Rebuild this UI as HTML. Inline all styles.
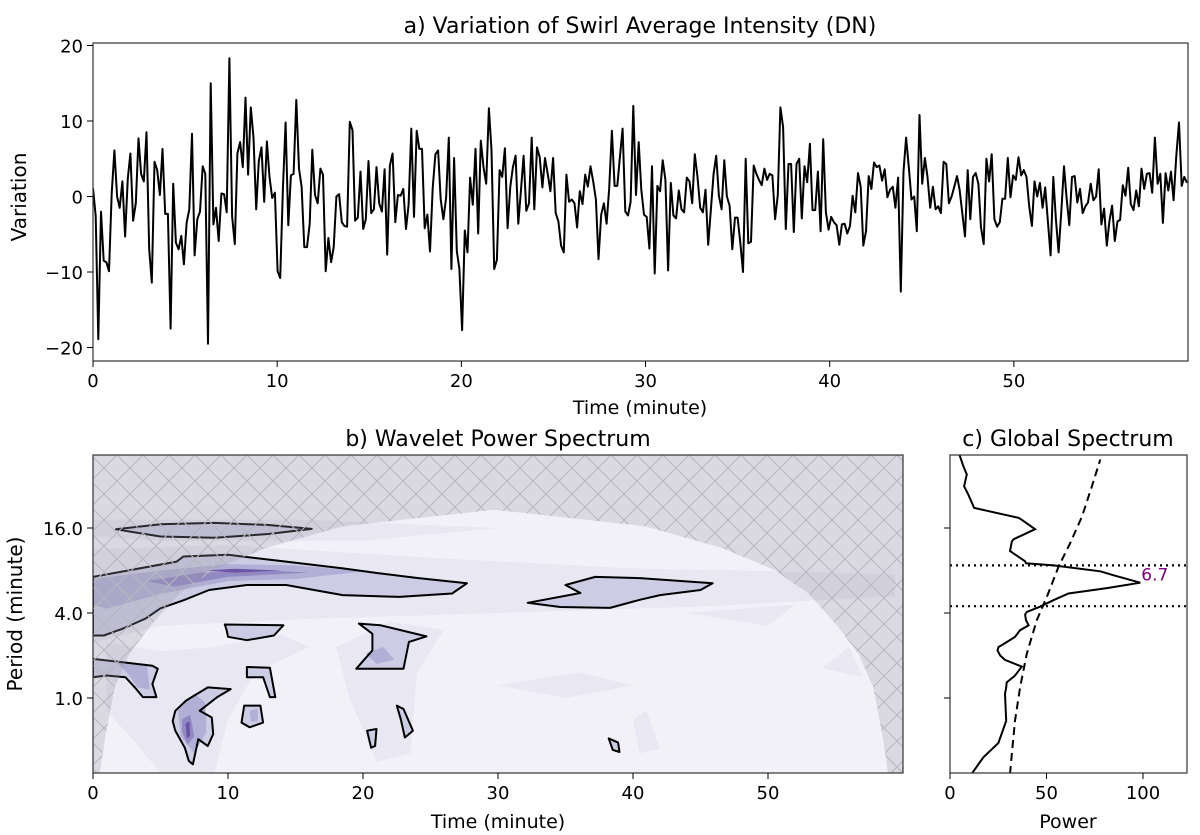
<!DOCTYPE html>
<html><head><meta charset="utf-8">
<style>
html,body{margin:0;padding:0;background:#fff;}
svg{display:block;font-family:"DejaVu Sans","Liberation Sans",sans-serif;}
</style></head>
<body>
<svg id="fig" width="1200" height="835" viewBox="0 0 1200 835" xmlns="http://www.w3.org/2000/svg">
<defs>
<pattern id="hatch" width="26" height="26" patternUnits="userSpaceOnUse">
<path d="M0,0 L26,26 M26,0 L0,26" stroke="#b8b7c0" stroke-width="1" fill="none"/>
</pattern>
<clipPath id="clipB"><rect x="93" y="455" width="810" height="318"/></clipPath>
<clipPath id="clipC"><rect x="950" y="455" width="237" height="318"/></clipPath>
<clipPath id="clipA"><rect x="93" y="43" width="1095" height="318"/></clipPath>
</defs>
<g id="panelA"></g>
<g id="panelB"></g>
<g id="panelC"></g>
</svg>
<script>
// ---------- Panel a data ----------
const seriesValues = [1.1,-2.6,-18.9,-2.0,-8.5,-8.7,-9.9,0.4,6.1,0,-1.5,2.0,-5.3,2.4,5.7,-3.2,-0.9,7.7,3.0,2.0,8.5,-7.0,-11.4,4.6,3.5,0.2,6.3,-2.3,-2.3,-17.5,1.7,-6.1,-7.0,-5.2,-9.0,-3.5,-1.7,8.3,-7.8,-3.0,-2.0,4.0,3.0,-19.5,15.0,-3.7,-1.5,-5.9,0.4,0.3,-2.1,18.3,-2.6,-6.3,5.7,7.2,3.9,13.1,2.9,11.8,7.8,-1.7,4.7,6.5,-0.7,7.3,2.6,-0.2,0.5,-9.9,-10.8,1.0,9.8,-3.8,2.8,3.0,12.8,3.7,1.3,-6.7,-6.7,-3.6,6.2,0.2,-0.9,3.7,2.9,-9.9,-5.5,-8.7,-6.7,0,0.3,-3.4,-3.9,-4.0,9.9,8.8,-3.2,-2.8,3.3,-4.3,-3.0,4.7,-2.2,-1.7,3.9,-0.9,-2.0,3.6,-7.7,4.1,5.7,-3.4,0.2,0.1,1.0,-4.3,-1.1,9.0,-2.7,8.7,6.3,6.3,-4.2,-2.4,-7.3,1.1,5.6,6.1,-0.4,-3.0,-0.2,7.8,-9.6,5.1,-7.2,-9.6,-17.7,-4.5,
-7.4,2.5,-1.1,6.3,-4.9,7.4,3.9,1.7,11.7,6.1,-9.6,-8.4,3.5,2.6,6.4,-4.2,1.3,3.9,5.4,-3.6,0.9,5.4,-1.9,-0.9,7.8,-1.7,6.5,5.2,1.2,5.1,3.0,0.7,5.1,-2.2,-3.3,-6.5,-7.4,2.9,-0.7,-0.4,-0.9,-4.1,0.7,-1.0,2.9,1.3,4.0,2.0,-0.4,-8.3,-2.4,-0.9,-3.6,1.1,8.7,1.4,1.4,5.2,9.0,-2.0,-2.5,-0.7,12.0,0.2,7.2,0.9,-2.4,-2.7,-6.9,4.0,-10.2,1.4,0.7,4.8,2.2,-9.8,1.8,-2.5,-2.9,0.8,-1.7,-2.1,2.5,2.0,-0.9,5.6,2.6,-1.5,-2.1,0.9,-6.4,-1.7,3.0,5.4,0.1,-1.7,4.8,0,-1.2,-7.0,-2.8,-2.8,-6.1,-10.0,5.0,-6.2,-6.0,4.1,3.0,2.2,1.5,3.7,2.2,3.0,2.8,-3.0,0.2,11.8,9.2,-4.3,4.3,4.3,-4.7,4.3,5.0,-2.9,4.0,1.9,7.0,-1.8,-1.8,3.3,-4.6,7.6,
-2.1,-4.4,-2.7,-3.4,-3.8,-6.4,-3.7,-3.6,-4.9,-3.9,0.1,-2.1,3.1,1.3,-6.5,-4.6,2.7,1.0,4.5,3.9,4.1,2.1,3.6,-0.1,0.9,1.3,-1.5,2.5,-12.6,3.3,7.8,3.9,-0.4,0,-4.6,10.8,1.7,5.1,2.6,-1.5,1.3,-1.7,-1.3,-2.2,4.6,4.3,-0.9,0,1.3,2.7,0.9,-2.2,-5.3,3.5,-3.0,2.6,3.1,1.7,-4.1,-6.3,5.0,2.0,5.6,-3.0,-4.0,-3.4,-0.3,-0.3,5.1,-0.1,2.8,2.2,5.2,2.8,3.5,2.6,-1.3,-3.9,2.0,0,1.8,-1.5,1.2,-3.3,-7.8,2.6,-3.0,-7.4,-2.0,4.0,-0.2,-3.8,2.6,2.7,-0.8,1.0,-2.2,-1.3,-0.8,1.7,-0.5,0,3.6,-3.7,-1.6,-6.5,-3.3,-1.2,-5.9,-3.3,-3.1,1.5,0.1,3.8,-1.0,-1.8,0.8,-1.3,3.7,1.0,3.0,3.1,0.5,7.8,1.7,3.0,-3.5,3.1,0.8,3.3,-0.5,5.4,9.8,1.4,2.6,1.8];
const seriesDuration = 59.4;
const aXTicks = [0,10,20,30,40,50];
const aYTicks = [20,10,0,-10,-20];

// ---------- Panel c data ----------
const gsPeriod = [53.2,44,38.3,31.6,27.6,22.2,18.9,18.3,15.7,13.3,12.8,11.0,9.3,9.0,8.7,7.9,7.4,6.56,6.0,5.5,4.93,4.43,4.07,3.9,3.56,3.27,3.02,2.71,2.49,2.29,2.17,2.0,1.86,1.67,1.44,1.29,1.19,1.07,0.69,0.48,0.38,0.29];
const gsPower = [4.8,6.9,8.7,7.3,9.5,12.5,35.5,37.2,44.1,32.9,32.0,31.1,38.9,39.4,53.6,77.9,84.8,98.6,81.3,61.4,53.6,46.7,39.8,38.9,39.4,40.7,36.3,33.7,29.4,25.1,24.6,26.0,28.5,37.2,33.7,29.4,29.1,28.5,29.1,25.1,17.3,11.2];
const sigPeriod = [0.29,0.40,0.69,1.19,2.06,3.56,5.21,8.5,12.5,19.3,31.6,48.9];
const sigPower = [31.1,32,33.7,36.3,39.8,45,50.2,56.2,62.3,68.4,73.5,77.9];
const bandPeriods = [8.7,4.47];
const peakLabel = "6.7";
const peakPeriod = 6.56, peakPower = 98.6;
const cXTicks = [0,50,100];
const periodTicks = [16,4,1];
const periodTickLabels = ["16.0","4.0","1.0"];
const bXTicks = [0,10,20,30,40,50];

// ---------- Panel b contour shapes (time min, log2 period) ----------
const coiTime = [0.5,0.9,1.6,2.7,4.4,6.4,8.9,12.8,18.5,29.7];
const coiLog2 = [-1.78,-0.93,0.25,1.04,1.75,2.46,3.01,3.53,4.04,4.43];
const lightShapes = [
 [[0,3.5],[10,3.6],[25,3.3],[40,3.05],[55,2.95],[59.4,2.9],[59.4,2.4],[45,2.15],[30,2.0],[15,1.85],[5,1.7],[0,1.3]],
 [[0,4.2],[15,4.2],[30,4.0],[20,3.7],[5,3.7],[0,3.8]],
 [[1,1.3],[5,1.1],[9,1.2],[14,1.5],[16,1.2],[12,0.6],[10,-0.5],[9,-1.76],[5,-1.76],[3,-1.0],[1,-0.3]],
 [[18,1.2],[22,1.8],[26,1.6],[24,0.6],[23.5,-1.3],[21,-1.5],[19,0]],
 [[30,0.3],[36,0.6],[40,0.3],[35,0.0]],
 [[40,-0.5],[41,-0.3],[42,-1.2],[40.5,-1.3]],
 [[54,0.7],[56,1.2],[57,0.5]],
 [[44,2.0],[52,2.2],[50,1.7]]
];
const midShapes = [
 [[0,2.8],[5,3.0],[10,3.15],[15,3.12],[20,2.98],[15,2.8],[10,2.75],[5,2.45],[1,2.1],[0,2.2]],
 [[1.5,0.9],[4,0.75],[4.2,0.2],[3.3,0.25],[2.5,0.6]],
 [[6.3,-0.3],[7.5,0.1],[8.3,-0.1],[8.4,-0.8],[7.5,-1.3],[6.5,-0.9]],
 [[20.2,1.05],[21.5,1.2],[22.3,0.9],[21,0.8]],
 [[11.6,-0.3],[12.2,-0.25],[12.2,-0.55],[11.7,-0.55]]
];
const darkShapes = [
 [[4,2.75],[8,2.95],[13,3.0],[16,2.95],[10,2.85],[6,2.62]],
 [[6.6,-0.5],[7.2,-0.4],[7.5,-0.9],[7.0,-1.1],[6.6,-0.8]]
];
const darkestShapes = [
 [[8.3,3.0],[10.5,3.04],[14,3.0],[10.5,2.95]],
 [[6.85,-0.6],[7.15,-0.55],[7.2,-0.9],[6.95,-0.95]]
];
const outlineShapes = [
 [[1.7,3.97],[5,4.09],[9,4.12],[13,4.07],[16.2,3.98],[13,3.86],[9,3.77],[5,3.8]],
 [[0,2.85],[6.2,3.21],[6.7,3.33],[10,3.37],[14.3,3.21],[18.5,3.05],[21.3,2.93],[24.1,2.82],[27.7,2.70],[26.6,2.46],[22.7,2.38],[18.5,2.42],[14.3,2.66],[11.4,2.66],[8.6,2.54],[6.7,2.30],[5.0,2.11],[3.9,1.87],[2.2,1.63],[0.8,1.47],[0,1.47]],
 [[32.2,2.24],[36.1,2.47],[35,2.66],[37.2,2.85],[40.5,2.82],[45.9,2.7],[45,2.54],[42,2.42],[40.5,2.31],[38.3,2.12],[34.6,2.14]],
 [[9.76,1.73],[14.1,1.71],[13.4,1.47],[11.4,1.36],[10,1.44],[9.9,1.59]],
 [[19.7,1.75],[21.3,1.71],[24.7,1.45],[23.4,1.32],[23,0.69],[19.5,0.69],[20.7,1.12],[20.7,1.51]],
 [[0,0.92],[4.4,0.76],[4.8,0.69],[4.4,0.33],[4.7,0.02],[3.7,0.02],[3.1,0.25],[2.4,0.49],[1.0,0.53],[0,0.49]],
 [[11.4,0.73],[13.1,0.71],[13.5,0.02],[13.1,0.02],[12.6,0.49],[11.4,0.49]],
 [[6.1,-0.30],[6.9,-0.06],[8.5,0.25],[10.2,0.21],[9.2,0.02],[7.9,-0.3],[8.8,-0.46],[8.9,-0.85],[8.5,-1.13],[7.8,-0.97],[7.4,-1.56],[7.1,-1.48],[6.8,-1.17],[6.1,-0.77],[5.9,-0.54]],
 [[11.2,-0.18],[12.4,-0.18],[12.6,-0.58],[11.6,-0.69],[11,-0.58]],
 [[20.3,-0.77],[21,-0.73],[20.9,-1.13],[20.6,-1.17]],
 [[22.5,-0.18],[23,-0.26],[23.7,-0.77],[23.1,-0.93],[22.8,-0.5]],
 [[38.2,-0.95],[38.9,-1.05],[39.0,-1.27],[38.5,-1.22]]
];

const NS = "http://www.w3.org/2000/svg";
function mk(tag, attrs, parent){const el=document.createElementNS(NS,tag);for(const k in attrs)el.setAttribute(k,attrs[k]);parent.appendChild(el);return el;}
function txt(s, attrs, parent){const el=mk("text",attrs,parent);el.textContent=s;return el;}

// ======== Panel A ========
const PA = document.getElementById("panelA");
const aL=93,aR=1188,aT=43,aB=361;
const ax = t => aL + t*(1094/59.4);
const ay = v => 196.5 - v*7.55;
const nPts = seriesValues.length;
let dA = "";
seriesValues.forEach((v,i)=>{const t=i*seriesDuration/(nPts-1);dA+=(i?"L":"M")+ax(t).toFixed(1)+","+ay(v).toFixed(1);});
const lineA = mk("path",{d:dA,fill:"none",stroke:"#000","stroke-width":2,"stroke-linejoin":"round","clip-path":"url(#clipA)"},PA);


const frameA = mk("rect",{x:aL,y:aT,width:aR-aL,height:aB-aT,fill:"none",stroke:"#333","stroke-width":1.2},PA);


aXTicks.forEach(t=>{const x=ax(t);mk("line",{x1:x,x2:x,y1:aB,y2:aB+6,stroke:"#000"},PA);
 const l=txt(String(t),{x:x,y:aB+26,"font-size":18,"text-anchor":"middle"},PA);
 
 });
aYTicks.forEach(v=>{const y=ay(v);mk("line",{x1:aL-6,x2:aL,y1:y,y2:y,stroke:"#000"},PA);
 const l=txt(v<0?"\u2212"+(-v):String(v),{x:aL-10,y:y+7,"font-size":18,"text-anchor":"end"},PA);
 
 });
let el;
el=txt("a) Variation of Swirl Average Intensity (DN)",{x:640,y:33,"font-size":22,"text-anchor":"middle"},PA);

el=txt("Time (minute)",{x:640,y:414,"font-size":19,"text-anchor":"middle"},PA);

el=txt("Variation",{x:0,y:0,"font-size":20,"text-anchor":"middle",transform:"translate(26,197) rotate(-90)"},PA);


// ======== Panel B ========
const PB = document.getElementById("panelB");
const bL=93,bR=903,bT=455,bB=773;
const bx = t => bL + t*13.5;
const by = l2 => 698 - l2*42.5;
const gB = mk("g",{"clip-path":"url(#clipB)"},PB);
mk("rect",{x:bL,y:bT,width:bR-bL,height:bB-bT,fill:"#f3f1f8"},gB);
function poly(pts){return "M"+pts.map(p=>bx(p[0]).toFixed(1)+","+by(p[1]).toFixed(1)).join("L")+"Z";}
lightShapes.forEach(s=>{const p=mk("path",{d:poly(s),fill:"#e8e7f2"},gB);
 });
outlineShapes.forEach(s=>{const p=mk("path",{d:poly(s),fill:"#ccccE4"},gB);
 });
midShapes.forEach(s=>{const p=mk("path",{d:poly(s),fill:"#b1afd5"},gB);
 });
darkShapes.forEach(s=>{const p=mk("path",{d:poly(s),fill:"#9289c3"},gB);
 });
darkestShapes.forEach(s=>{const p=mk("path",{d:poly(s),fill:"#6d55a8"},gB);
 });
outlineShapes.forEach(s=>{const p=mk("path",{d:poly(s),fill:"none",stroke:"#000","stroke-width":2,"stroke-linejoin":"round"},gB);
 });
let coi=[];
coiTime.forEach((t,i)=>coi.push([t,coiLog2[i]]));
for(let i=coiTime.length-2;i>=0;i--) coi.push([seriesDuration-coiTime[i],coiLog2[i]]);
const coiTopL2=6, coiBotL2=-2;
let cd="M"+bx(0)+","+by(coiBotL2)+"L"+coi.map(p=>bx(p[0]).toFixed(1)+","+by(p[1]).toFixed(1)).join("L")+"L"+bx(seriesDuration)+","+by(coiBotL2)+"L"+bR+","+by(coiBotL2)+"L"+bR+","+by(coiTopL2)+"L"+bL+","+by(coiTopL2)+"L"+bL+","+by(coiBotL2)+"Z";
el=mk("path",{d:cd,fill:"rgba(150,148,162,0.27)","fill-rule":"evenodd"},gB);

el=mk("path",{d:cd,fill:"url(#hatch)","fill-rule":"evenodd"},gB);

el=mk("rect",{x:bL,y:bT,width:bR-bL,height:bB-bT,fill:"none",stroke:"#333","stroke-width":1.2},PB);

bXTicks.forEach(t=>{const x=bx(t);mk("line",{x1:x,x2:x,y1:bB,y2:bB+6,stroke:"#000"},PB);
 const l=txt(String(t),{x:x,y:bB+26,"font-size":18,"text-anchor":"middle"},PB);
 });
periodTicks.forEach((p,i)=>{const y=by(Math.log2(p));mk("line",{x1:bL-6,x2:bL,y1:y,y2:y,stroke:"#000"},PB);
 const l=txt(periodTickLabels[i],{x:bL-10,y:y+7,"font-size":18,"text-anchor":"end"},PB);
 });
el=txt("b) Wavelet Power Spectrum",{x:498,y:446,"font-size":22,"text-anchor":"middle"},PB);

el=txt("Time (minute)",{x:498,y:828,"font-size":19,"text-anchor":"middle"},PB);

el=txt("Period (minute)",{x:0,y:0,"font-size":20,"text-anchor":"middle",transform:"translate(22,614) rotate(-90)"},PB);


// ======== Panel C ========
const PC = document.getElementById("panelC");
const cL=950,cR=1187,cT=455,cB=773;
const cx = p => cL + p*1.93;
const cy = per => 698 - Math.log2(per)*42.5;
const gC = mk("g",{"clip-path":"url(#clipC)"},PC);
let gd=gsPower.map((p,i)=>(i?"L":"M")+cx(p).toFixed(1)+","+cy(gsPeriod[i]).toFixed(1)).join("");
el=mk("path",{d:gd,fill:"none",stroke:"#000","stroke-width":2},gC);

let sd=sigPower.map((p,i)=>(i?"L":"M")+cx(p).toFixed(1)+","+cy(sigPeriod[i]).toFixed(1)).join("");
el=mk("path",{d:sd,fill:"none",stroke:"#000","stroke-width":2,"stroke-dasharray":"8,5"},gC);

bandPeriods.forEach(p=>{const y=cy(p);const l=mk("line",{x1:cL,x2:cR,y1:y,y2:y,stroke:"#000","stroke-width":2.2,"stroke-dasharray":"2,4"},gC);
 });
el=txt(peakLabel,{x:cx(peakPower)+1,y:cy(peakPeriod)-2,"font-size":17,fill:"#800080"},PC);

el=mk("rect",{x:cL,y:cT,width:cR-cL,height:cB-cT,fill:"none",stroke:"#333","stroke-width":1.2},PC);

cXTicks.forEach(p=>{const x=cx(p);mk("line",{x1:x,x2:x,y1:cB,y2:cB+6,stroke:"#000"},PC);
 const l=txt(String(p),{x:x,y:cB+26,"font-size":18,"text-anchor":"middle"},PC);
 });
periodTicks.forEach(p=>{const y=cy(p);mk("line",{x1:cL-6,x2:cL,y1:y,y2:y,stroke:"#000"},PC);});
el=txt("c) Global Spectrum",{x:1068,y:446,"font-size":22,"text-anchor":"middle"},PC);

el=txt("Power",{x:1068,y:828,"font-size":19,"text-anchor":"middle"},PC);

</script>
</body></html>
